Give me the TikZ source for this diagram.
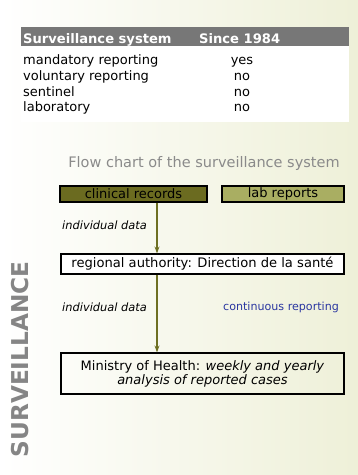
\documentclass[tikz,border=0pt]{standalone}
\usepackage{fontspec}
\setmainfont{DejaVu Sans}
\usetikzlibrary{arrows.meta}
\definecolor{bgright}{HTML}{EEF0D8}
\definecolor{hdrgray}{HTML}{777777}
\definecolor{olivedark}{HTML}{6B6B20}
\definecolor{olivelight}{HTML}{A9AE62}
\definecolor{arrowolive}{HTML}{6E7022}
\definecolor{titlegray}{HTML}{8A8A8A}
\definecolor{contblue}{HTML}{2A36A0}
\definecolor{survgray}{HTML}{858585}
\tikzset{
  rowtext/.style={anchor=base west, inner sep=0, font=\fontsize{13}{15}\selectfont},
  valtext/.style={anchor=base, inner sep=0, font=\fontsize{13}{15}\selectfont},
  hdrtext/.style={anchor=base west, inner sep=0, text=white, font=\fontsize{13.1}{15}\selectfont\bfseries},
  flowbox/.style={draw=black, line width=1.2pt, inner sep=0, font=\fontsize{13}{15}\selectfont},
  labeltext/.style={inner sep=0, font=\fontsize{11.4}{13}\selectfont\itshape},
  flowarrow/.style={draw=arrowolive, line width=1.6pt, -{Stealth[length=7pt,width=5pt]}}
}
\begin{document}
\begin{tikzpicture}[x=1pt,y=-1pt]
\useasboundingbox (0,0) rectangle (358,475);
\shade[left color=white, right color=bgright] (0,0) rectangle (358,475);
% table
\fill[hdrgray] (21,27) rectangle (349,46);
\fill[white] (21,46) rectangle (349,122);
\node[hdrtext] (h1) at (23,43) {Surveillance system};
\node[hdrtext] (h2) at (199,43) {Since 1984};
\node[rowtext] (r1) at (23,64) {mandatory reporting};
\node[rowtext] (r2) at (23,80) {voluntary reporting};
\node[rowtext] (r3) at (23,96) {sentinel};
\node[rowtext] (r4) at (23,111.5) {laboratory};
\node[valtext] (v1) at (242,64) {yes};
\node[valtext] (v2) at (242,80) {no};
\node[valtext] (v3) at (242,96) {no};
\node[valtext] (v4) at (242,111.5) {no};
% flow chart
\node[inner sep=0, text=titlegray, font=\fontsize{14.5}{16}\selectfont] (title) at (204,163) {Flow chart of the surveillance system};
\node[flowbox, fill=olivedark, minimum width=147pt, minimum height=16pt] (clin) at (133.5,194) {clinical records};
\node[flowbox, fill=olivelight, minimum width=122pt, minimum height=16pt] (lab) at (283,194) {lab reports};
\node[flowbox, fill=white, minimum width=283pt, minimum height=20pt, font=\fontsize{13.1}{15}\selectfont] (reg) at (202.5,264) {regional authority: Direction de la santé};
\node[flowbox, minimum width=283pt, minimum height=41pt, align=center] (min) at (202.5,373.5) {Ministry of Health: \textit{weekly and yearly}\\[-1pt]\textit{analysis of reported cases}};
\coordinate (a1) at (157,194);
\draw[flowarrow] (clin.south -| a1) -- (reg.north -| a1);
\draw[flowarrow] (reg.south -| a1) -- (min.north -| a1);
\node[labeltext, anchor=west] (id1) at (62,225) {individual data};
\node[labeltext, anchor=west] (id2) at (62,307) {individual data};
\node[inner sep=0, anchor=west, text=contblue, font=\fontsize{11.1}{13}\selectfont] (cont) at (223,307) {continuous reporting};
\node[inner sep=0, rotate=90, text=survgray, font=\fontsize{23.2}{25}\selectfont\bfseries] (surv) at (20,359.5) {SURVEILLANCE};
\end{tikzpicture}
\end{document}
